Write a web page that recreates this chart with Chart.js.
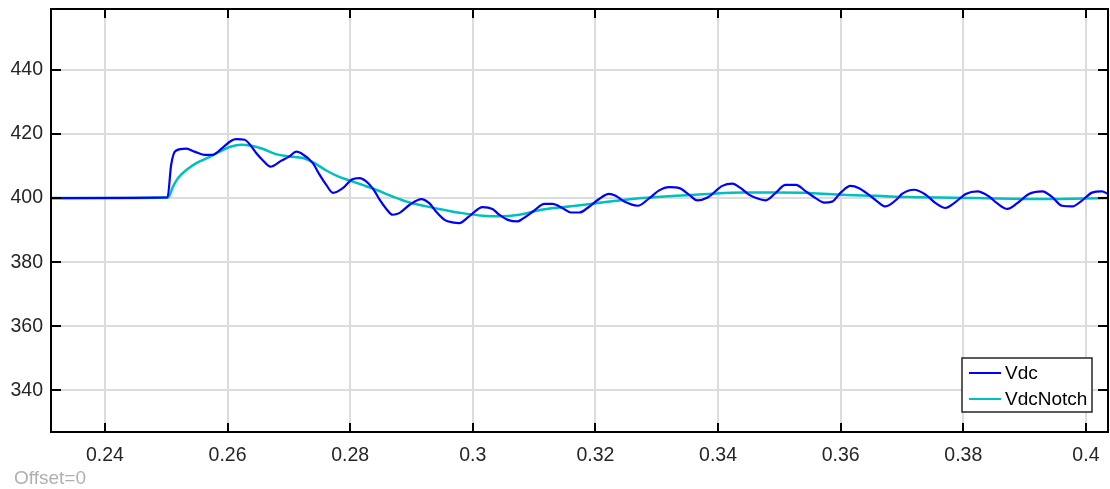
<!DOCTYPE html>
<html>
<head>
<meta charset="utf-8">
<script src="https://cdn.jsdelivr.net/npm/chart.js@4/dist/chart.umd.min.js"></script>
<style>
  body { margin: 0; background: #fff; }
  #wrap { width: 1110px; height: 489px; }
</style>
</head>
<body>
<div id="wrap"><canvas id="grafico" width="1110" height="489"></canvas></div>
<script>
const xTicks = [0.24, 0.26, 0.28, 0.3, 0.32, 0.34, 0.36, 0.38, 0.4];
const xTickLabels = ['0.24', '0.26', '0.28', '0.3', '0.32', '0.34', '0.36', '0.38', '0.4'];
const yTicks = [340, 360, 380, 400, 420, 440];
const nomes = ['Vdc', 'VdcNotch'];

// Vdc (tempo, tensao)
const vdcT = [0.2312, 0.2502, 0.2508, 0.2515, 0.2533, 0.2546, 0.2562, 0.2576, 0.2590, 0.2606, 0.2614, 0.2628,
  0.2636, 0.2647, 0.2657, 0.2670, 0.2687, 0.2701, 0.2712, 0.2720, 0.2739, 0.2750, 0.2761, 0.2772, 0.2788,
  0.2802, 0.2815, 0.2829, 0.2840, 0.2848, 0.2859, 0.2869, 0.2880, 0.2897, 0.2916, 0.2929, 0.2940, 0.2954,
  0.2967, 0.2978, 0.2994, 0.3016, 0.3032, 0.3043, 0.3057, 0.3073, 0.3081, 0.3098, 0.3117, 0.3130, 0.3146,
  0.3160, 0.3174, 0.3187, 0.3206, 0.3222, 0.3233, 0.3247, 0.3269, 0.3288, 0.3304, 0.3320, 0.3337, 0.3353,
  0.3366, 0.3383, 0.3407, 0.3423, 0.3437, 0.3451, 0.3467, 0.3478, 0.3494, 0.3510, 0.3527, 0.3543, 0.3559,
  0.3573, 0.3586, 0.3600, 0.3616, 0.3630, 0.3646, 0.3660, 0.3673, 0.3692, 0.3700, 0.3720, 0.3739, 0.3755,
  0.3771, 0.3785, 0.3804, 0.3823, 0.3842, 0.3855, 0.3872, 0.3888, 0.3907, 0.3929, 0.3945, 0.3961, 0.3978,
  0.3994, 0.4010, 0.4026, 0.4036];
const vdcV = [400.0, 400.2, 410.4, 414.7, 415.4, 414.5, 413.5, 413.5, 415.4, 417.9, 418.4, 418.2,
  416.8, 414.0, 411.9, 409.8, 411.6, 413.0, 414.5, 414.0, 410.9, 407.3, 404.1, 401.6, 403.1,
  405.7, 406.2, 404.7, 402.1, 399.5, 396.6, 394.8, 395.3, 397.9, 399.7, 398.4, 395.8, 393.2,
  392.4, 392.2, 394.3, 397.2, 396.6, 394.8, 393.2, 392.7, 393.5, 395.8, 398.2, 398.2, 396.9,
  395.5, 395.5, 396.9, 399.7, 401.3, 400.7, 398.9, 397.6, 400.0, 402.4, 403.4, 403.1, 401.0,
  399.3, 400.2, 403.8, 404.5, 403.1, 401.0, 399.7, 399.3, 401.6, 404.1, 404.1, 402.1, 400.0,
  398.6, 398.9, 401.7, 403.8, 403.1, 401.0, 398.9, 397.4, 399.7, 401.3, 402.6, 401.0, 398.4,
  396.9, 398.4, 401.3, 402.1, 400.5, 398.4, 396.6, 398.4, 401.3, 402.1, 400.3, 397.6, 397.4,
  399.3, 401.7, 402.1, 401.3];

// VdcNotch (tempo, tensao)
const notchT = [0.2312, 0.2503, 0.2511, 0.2519, 0.2533, 0.2549, 0.2568, 0.2587, 0.2606, 0.2622, 0.2636,
  0.2657, 0.2679, 0.2701, 0.2723, 0.2739, 0.2761, 0.2782, 0.2799, 0.2820, 0.2842, 0.2869, 0.2897, 0.2924,
  0.2951, 0.2983, 0.3016, 0.3043, 0.3076, 0.3114, 0.3168, 0.3223, 0.3277, 0.3331, 0.3385, 0.3440, 0.3494,
  0.3549, 0.3603, 0.3657, 0.3711, 0.3820, 0.3928, 0.4036];
const notchV = [400.0, 400.2, 403.6, 406.2, 408.8, 410.9, 412.6, 414.5, 416.1, 416.6, 416.4,
  415.4, 413.7, 413.0, 412.5, 411.2, 408.6, 406.6, 405.5, 404.1, 402.6, 400.5, 398.6, 397.4,
  396.4, 395.3, 394.5, 394.3, 394.8, 396.4, 397.6, 398.9, 400.0, 400.7, 401.3, 401.7, 401.7,
  401.6, 401.0, 400.7, 400.3, 400.0, 399.7, 400.0];

const cores = ['#0000ff', '#00bfbf'];
const fonte = "'Liberation Sans', Arial, sans-serif";

const moldura = {
    id: 'moldura',
    afterDraw(chart) {
        const c = chart.ctx;
        const a = chart.chartArea;
        const sx = chart.scales.x, sy = chart.scales.y;
        c.save();
        c.strokeStyle = '#000';
        c.lineWidth = 2;
        c.beginPath();
        xTicks.forEach(v => {
            const px = Math.round(sx.getPixelForValue(v));
            c.moveTo(px, a.top); c.lineTo(px, a.top + 9);
            c.moveTo(px, a.bottom); c.lineTo(px, a.bottom - 9);
        });
        yTicks.forEach(v => {
            const py = Math.round(sy.getPixelForValue(v));
            c.moveTo(a.left, py); c.lineTo(a.left + 10, py);
            c.moveTo(a.right, py); c.lineTo(a.right - 10, py);
        });
        c.stroke();
        c.strokeRect(a.left, a.top, a.right - a.left, a.bottom - a.top);

        // legenda
        const lx = 962, ly = 358, lw = 130, lh = 54;
        c.fillStyle = '#fff';
        c.fillRect(lx, ly, lw, lh);
        c.lineWidth = 1.5;
        c.strokeStyle = '#262626';
        c.strokeRect(lx, ly, lw, lh);
        c.font = '19px ' + fonte;
        c.textBaseline = 'middle';
        nomes.forEach((n, i) => {
            const yy = ly + 15 + i * 26;
            c.strokeStyle = cores[i];
            c.lineWidth = 2;
            c.beginPath();
            c.moveTo(lx + 7, yy); c.lineTo(lx + 39, yy);
            c.stroke();
            c.fillStyle = '#000';
            c.fillText(n, lx + 43, yy + 1);
        });

        c.fillStyle = '#b0b0b0';
        c.textBaseline = 'middle';
        c.fillText('Offset=0', 14, 479);
        c.restore();
    }
};

const ctx = document.getElementById('grafico').getContext('2d');
const grafico = new Chart(ctx, {
    type: 'line',
    data: {
        datasets: [
            {
                label: nomes[0],
                data: vdcT.map((t, i) => ({ x: t, y: vdcV[i] })),
                borderColor: cores[0],
                borderWidth: 2.2,
                pointRadius: 0,
                cubicInterpolationMode: 'monotone',
                fill: false
            },
            {
                label: nomes[1],
                data: notchT.map((t, i) => ({ x: t, y: notchV[i] })),
                borderColor: cores[1],
                borderWidth: 2.5,
                pointRadius: 0,
                cubicInterpolationMode: 'monotone',
                fill: false
            }
        ]
    },
    options: {
        responsive: false,
        animation: false,
        layout: { padding: { left: 0, top: 9, right: 2, bottom: 0 } },
        scales: {
            x: {
                type: 'linear', min: 0.2312, max: 0.4036,
                afterBuildTicks: s => { s.ticks = xTicks.map(v => ({ value: v })); },
                afterFit: s => { s.height = 57; s.paddingLeft = 0; s.paddingRight = 0; },
                grid: { color: '#dcdcdc', lineWidth: 2, drawTicks: false },
                border: { display: false },
                ticks: {
                    autoSkip: false, maxRotation: 0, padding: 12, color: '#262626',
                    font: { family: fonte, size: 19.5 },
                    callback: (v) => xTickLabels[xTicks.indexOf(v)]
                }
            },
            y: {
                min: 327, max: 459,
                afterBuildTicks: s => { s.ticks = yTicks.map(v => ({ value: v })); },
                afterFit: s => { s.width = 51; s.paddingTop = 0; s.paddingBottom = 0; },
                grid: { color: '#dcdcdc', lineWidth: 2, drawTicks: false },
                border: { display: false },
                ticks: {
                    padding: 8, color: '#262626',
                    font: { family: fonte, size: 19.5 }
                }
            }
        },
        plugins: {
            legend: { display: false },
            tooltip: { enabled: false }
        }
    },
    plugins: [moldura]
});
</script>
</body>
</html>
